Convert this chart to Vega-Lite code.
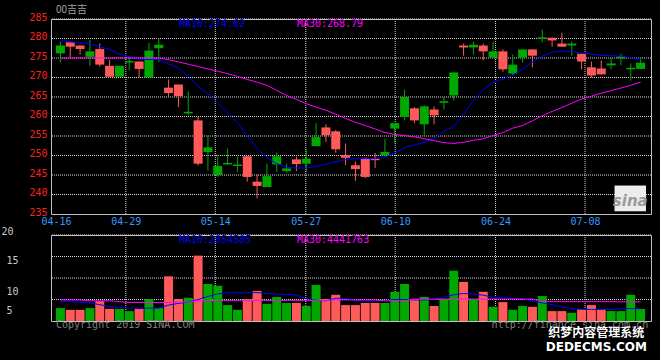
{
  "$schema": "https://vega.github.io/schema/vega-lite/v6.json",
  "background": "#000000",
  "padding": {"left": 0, "top": 4, "right": 10, "bottom": 8},
  "bounds": "flush",
  "spacing": 21,
  "config": {
    "view": {"stroke": "#c0c0c0", "strokeWidth": 1},
    "font": "DejaVu Sans Mono",
    "axis": {"labelFont": "DejaVu Sans Mono", "labelFontSize": 10, "ticks": false, "domain": false, "title": null, "grid": false, "labelFlush": false, "labelOverlap": false}
  },
  "datasets": {
    "gx": [{"g": 6.65}, {"g": 15.75}, {"g": 24.95}, {"g": 34.05}, {"g": 44.25}, {"g": 53.35}],
    "gy": [{"g": 240}, {"g": 245}, {"g": 250}, {"g": 255}, {"g": 260}, {"g": 265}, {"g": 270}, {"g": 275}, {"g": 280}, {"g": 285}],
    "gv": [{"g": 5}, {"g": 10}, {"g": 15}, {"g": 20}],
    "k": [
    {"i":0,"o":278.2,"c":276.2,"h":279.2,"l":273.9,"v":3.0,"m10":279.4,"m30":275.0,"vm10":4.6,"vm30":4.9},
    {"i":1,"o":277.9,"c":279.0,"h":279.0,"l":275.2,"v":2.6,"m10":279.2,"m30":275.0,"vm10":4.5,"vm30":4.9},
    {"i":2,"o":277.3,"c":278.2,"h":278.2,"l":275.9,"v":2.6,"m10":278.9,"m30":275.0,"vm10":4.3,"vm30":4.9},
    {"i":3,"o":276.7,"c":275.3,"h":279.6,"l":273.0,"v":3.0,"m10":278.6,"m30":275.0,"vm10":4.2,"vm30":4.7},
    {"i":4,"o":273.3,"c":277.3,"h":278.7,"l":272.8,"v":4.6,"m10":277.9,"m30":275.0,"vm10":3.8,"vm30":4.7},
    {"i":5,"o":270.2,"c":273.0,"h":274.5,"l":270.2,"v":2.8,"m10":277.2,"m30":275.0,"vm10":3.4,"vm30":4.7},
    {"i":6,"o":273.0,"c":270.2,"h":273.0,"l":270.2,"v":2.8,"m10":276.0,"m30":275.0,"vm10":3.1,"vm30":4.5},
    {"i":7,"o":274.25,"c":273.85,"h":275.0,"l":271.8,"v":2.3,"m10":275.3,"m30":275.0,"vm10":3.0,"vm30":4.3},
    {"i":8,"o":272.2,"c":274.1,"h":274.1,"l":270.0,"v":2.8,"m10":274.7,"m30":275.0,"vm10":3.0,"vm30":4.3},
    {"i":9,"o":276.9,"c":270.0,"h":278.9,"l":270.0,"v":5.1,"m10":274.6,"m30":275.0,"vm10":3.0,"vm30":4.3},
    {"i":10,"o":278.4,"c":277.5,"h":280.0,"l":273.9,"v":3.0,"m10":274.6,"m30":275.0,"vm10":3.0,"vm30":4.3},
    {"i":11,"o":266.0,"c":267.4,"h":269.5,"l":265.0,"v":10.4,"m10":273.5,"m30":274.6,"vm10":3.7,"vm30":4.3},
    {"i":12,"o":265.2,"c":268.2,"h":268.2,"l":262.4,"v":5.1,"m10":272.4,"m30":274.0,"vm10":4.1,"vm30":4.4},
    {"i":13,"o":261.2,"c":260.8,"h":266.4,"l":260.3,"v":5.4,"m10":270.3,"m30":273.4,"vm10":4.4,"vm30":4.4},
    {"i":14,"o":247.9,"c":259.0,"h":259.9,"l":247.4,"v":15.2,"m10":267.8,"m30":272.8,"vm10":5.0,"vm30":4.7},
    {"i":15,"o":252.1,"c":250.9,"h":255.2,"l":246.1,"v":8.6,"m10":265.8,"m30":272.2,"vm10":5.7,"vm30":4.7},
    {"i":16,"o":247.3,"c":245.0,"h":250.1,"l":244.5,"v":8.2,"m10":263.5,"m30":271.6,"vm10":6.3,"vm30":4.8},
    {"i":17,"o":248.1,"c":247.7,"h":251.8,"l":247.7,"v":3.7,"m10":260.9,"m30":271.0,"vm10":6.6,"vm30":4.8},
    {"i":18,"o":247.7,"c":247.3,"h":249.7,"l":245.8,"v":2.6,"m10":258.4,"m30":270.3,"vm10":6.6,"vm30":4.8},
    {"i":19,"o":244.5,"c":249.8,"h":249.8,"l":243.3,"v":5.1,"m10":255.0,"m30":269.5,"vm10":6.6,"vm30":4.8},
    {"i":20,"o":242.2,"c":243.3,"h":245.1,"l":239.0,"v":7.0,"m10":251.8,"m30":268.8,"vm10":6.6,"vm30":4.8},
    {"i":21,"o":244.7,"c":241.9,"h":247.9,"l":241.9,"v":4.0,"m10":249.5,"m30":268.0,"vm10":6.4,"vm30":4.8},
    {"i":22,"o":249.8,"c":247.7,"h":250.8,"l":245.8,"v":5.6,"m10":247.9,"m30":266.7,"vm10":6.2,"vm30":4.8},
    {"i":23,"o":246.7,"c":246.0,"h":247.9,"l":245.6,"v":4.2,"m10":247.0,"m30":265.4,"vm10":6.2,"vm30":4.8},
    {"i":24,"o":247.8,"c":249.0,"h":249.7,"l":246.0,"v":4.2,"m10":246.8,"m30":264.4,"vm10":6.0,"vm30":4.8},
    {"i":25,"o":249.2,"c":247.9,"h":251.8,"l":246.0,"v":3.5,"m10":246.8,"m30":263.3,"vm10":5.2,"vm30":4.8},
    {"i":26,"o":254.7,"c":252.4,"h":258.3,"l":252.4,"v":8.4,"m10":247.2,"m30":262.4,"vm10":4.8,"vm30":4.8},
    {"i":27,"o":255.2,"c":257.2,"h":258.0,"l":253.5,"v":5.1,"m10":247.8,"m30":261.6,"vm10":4.7,"vm30":4.8},
    {"i":28,"o":251.6,"c":256.2,"h":256.5,"l":250.7,"v":6.1,"m10":248.4,"m30":260.6,"vm10":5.3,"vm30":4.9},
    {"i":29,"o":249.4,"c":250.1,"h":253.1,"l":247.5,"v":3.7,"m10":249.0,"m30":259.5,"vm10":5.2,"vm30":4.9},
    {"i":30,"o":246.5,"c":247.5,"h":248.5,"l":243.5,"v":3.7,"m10":249.2,"m30":258.5,"vm10":4.8,"vm30":4.9},
    {"i":31,"o":244.5,"c":249.4,"h":249.4,"l":244.2,"v":4.2,"m10":249.2,"m30":257.7,"vm10":4.7,"vm30":4.9},
    {"i":32,"o":248.8,"c":249.2,"h":250.7,"l":246.8,"v":4.2,"m10":249.2,"m30":256.8,"vm10":4.7,"vm30":4.9},
    {"i":33,"o":250.9,"c":250.0,"h":254.2,"l":250.0,"v":4.2,"m10":249.6,"m30":255.9,"vm10":4.8,"vm30":4.7},
    {"i":34,"o":258.3,"c":256.9,"h":258.3,"l":253.2,"v":6.8,"m10":250.6,"m30":255.4,"vm10":5.0,"vm30":4.7},
    {"i":35,"o":265.0,"c":259.9,"h":266.9,"l":259.0,"v":8.6,"m10":252.0,"m30":255.1,"vm10":5.0,"vm30":4.7},
    {"i":36,"o":259.0,"c":262.1,"h":262.4,"l":258.3,"v":5.1,"m10":252.7,"m30":254.8,"vm10":4.9,"vm30":5.1},
    {"i":37,"o":262.6,"c":258.0,"h":262.9,"l":255.0,"v":5.6,"m10":253.3,"m30":254.3,"vm10":4.9,"vm30":5.1},
    {"i":38,"o":260.3,"c":261.8,"h":262.6,"l":258.0,"v":3.5,"m10":254.4,"m30":253.8,"vm10":5.0,"vm30":5.1},
    {"i":39,"o":263.9,"c":263.5,"h":265.0,"l":261.8,"v":5.1,"m10":256.2,"m30":253.3,"vm10":5.5,"vm30":5.1},
    {"i":40,"o":271.3,"c":265.4,"h":271.3,"l":264.1,"v":11.7,"m10":257.5,"m30":253.1,"vm10":6.1,"vm30":5.1},
    {"i":41,"o":277.7,"c":278.2,"h":278.7,"l":275.6,"v":9.1,"m10":260.6,"m30":253.4,"vm10":6.4,"vm30":5.1},
    {"i":42,"o":278.4,"c":277.7,"h":279.2,"l":275.9,"v":5.1,"m10":264.0,"m30":253.9,"vm10":6.3,"vm30":5.1},
    {"i":43,"o":276.7,"c":278.2,"h":278.7,"l":274.4,"v":6.8,"m10":266.8,"m30":254.3,"vm10":6.0,"vm30":5.1},
    {"i":44,"o":276.7,"c":275.1,"h":279.2,"l":275.1,"v":3.3,"m10":268.8,"m30":255.1,"vm10":5.5,"vm30":5.1},
    {"i":45,"o":272.1,"c":276.7,"h":277.2,"l":271.5,"v":4.4,"m10":269.6,"m30":255.9,"vm10":5.4,"vm30":5.1},
    {"i":46,"o":273.3,"c":271.0,"h":275.9,"l":270.5,"v":2.6,"m10":270.6,"m30":257.0,"vm10":5.3,"vm30":5.1},
    {"i":47,"o":277.2,"c":275.1,"h":277.2,"l":273.8,"v":3.5,"m10":272.1,"m30":257.7,"vm10":5.2,"vm30":5.1},
    {"i":48,"o":275.6,"c":277.2,"h":277.2,"l":272.6,"v":3.3,"m10":274.0,"m30":258.9,"vm10":4.7,"vm30":5.1},
    {"i":49,"o":280.3,"c":279.9,"h":282.3,"l":279.0,"v":5.8,"m10":275.5,"m30":260.2,"vm10":4.2,"vm30":4.6},
    {"i":50,"o":279.5,"c":280.2,"h":280.2,"l":277.9,"v":2.3,"m10":276.5,"m30":261.3,"vm10":3.8,"vm30":4.5},
    {"i":51,"o":277.9,"c":278.7,"h":281.5,"l":277.9,"v":2.3,"m10":276.7,"m30":262.3,"vm10":3.2,"vm30":4.5},
    {"i":52,"o":278.7,"c":278.2,"h":279.2,"l":275.6,"v":1.9,"m10":276.7,"m30":263.4,"vm10":2.9,"vm30":4.5},
    {"i":53,"o":274.1,"c":276.1,"h":276.1,"l":272.1,"v":2.8,"m10":276.2,"m30":264.5,"vm10":2.7,"vm30":4.5},
    {"i":54,"o":270.5,"c":272.6,"h":274.1,"l":270.0,"v":3.7,"m10":276.0,"m30":265.2,"vm10":2.7,"vm30":4.5},
    {"i":55,"o":270.8,"c":272.3,"h":274.4,"l":270.8,"v":2.8,"m10":275.7,"m30":266.0,"vm10":2.7,"vm30":4.5},
    {"i":56,"o":273.6,"c":273.1,"h":275.1,"l":272.1,"v":2.3,"m10":275.6,"m30":266.6,"vm10":2.7,"vm30":4.5},
    {"i":57,"o":275.4,"c":274.9,"h":276.1,"l":273.1,"v":2.3,"m10":275.5,"m30":267.3,"vm10":2.8,"vm30":4.45},
    {"i":58,"o":272.5,"c":272.1,"h":273.6,"l":269.2,"v":6.1,"m10":275.1,"m30":268.0,"vm10":2.9,"vm30":4.45},
    {"i":59,"o":273.8,"c":272.2,"h":275.1,"l":272.2,"v":2.8,"m10":274.6,"m30":268.8,"vm10":2.85,"vm30":4.44}
  ]},
  "vconcat": [
    {
      "width": 600,
      "height": 195,
      "layer": [
        {
          "data": {"name": "gy"},
          "mark": {"type": "rule", "strokeWidth": 1, "color": "#d8d8d8", "strokeDash": [1, 1]},
          "encoding": {"y": {"field": "g", "type": "quantitative", "scale": {"domain": [235, 285], "nice": false, "zero": false},
            "axis": {"values": [235, 240, 245, 250, 255, 260, 265, 270, 275, 280, 285], "tickCount": 11, "labelOverlap": false, "labelColor": "#ff2020", "labelPadding": 4, "labelOffset": -2, "minExtent": 50, "maxExtent": 50}}}
        },
        {
          "data": {"name": "gx"},
          "mark": {"type": "rule", "strokeWidth": 1, "color": "#d8d8d8", "strokeDash": [1, 1]},
          "encoding": {"x": {"field": "g", "type": "quantitative", "scale": {"domain": [-0.45, 59.55], "nice": false, "zero": false},
            "axis": {"values": [-0.45, 6.65, 15.75, 24.95, 34.05, 44.25, 53.35], "tickCount": 7, "labelExpr": "datum.value < 0 ? '04-16' : datum.value < 10 ? '04-29' : datum.value < 20 ? '05-14' : datum.value < 30 ? '05-27' : datum.value < 40 ? '06-10' : datum.value < 50 ? '06-24' : '07-08'", "labelOverlap": false, "labelColor": "#3399ff", "labelPadding": 2, "labelAlign": "center"}}}
        },
        {
          "data": {"name": "k"},
          "mark": {"type": "rule", "strokeWidth": 1},
          "encoding": {
            "x": {"field": "i", "type": "quantitative"},
            "y": {"field": "l", "type": "quantitative"},
            "y2": {"field": "h"},
            "color": {"condition": {"test": "datum.c >= datum.o", "value": "#ff5a5a"}, "value": "#00a800"}
          }
        },
        {
          "data": {"name": "k"},
          "mark": {"type": "bar", "size": 9},
          "encoding": {
            "x": {"field": "i", "type": "quantitative"},
            "y": {"field": "o", "type": "quantitative"},
            "y2": {"field": "c"},
            "color": {"condition": {"test": "datum.c >= datum.o", "value": "#ff5a5a"}, "value": "#00a800"}
          }
        },
        {
          "data": {"name": "k"},
          "mark": {"type": "line", "strokeWidth": 1, "color": "#0000ff"},
          "encoding": {"x": {"field": "i", "type": "quantitative"}, "y": {"field": "m10", "type": "quantitative"}}
        },
        {
          "data": {"name": "k"},
          "mark": {"type": "line", "strokeWidth": 1, "color": "#ff00ff"},
          "encoding": {"x": {"field": "i", "type": "quantitative"}, "y": {"field": "m30", "type": "quantitative"}}
        },
        {
          "data": {"values": [{}]},
          "mark": {"type": "text", "align": "left", "baseline": "middle", "fontSize": 10, "color": "#0000ff", "font": "DejaVu Sans Mono"},
          "encoding": {"x": {"datum": 12.05}, "y": {"datum": 283.6}, "text": {"value": "MA10:274.62"}}
        },
        {
          "data": {"values": [{}]},
          "mark": {"type": "text", "align": "left", "baseline": "middle", "fontSize": 10, "color": "#ff00ff", "font": "DejaVu Sans Mono"},
          "encoding": {"x": {"datum": 24.05}, "y": {"datum": 283.6}, "text": {"value": "MA30:268.79"}}
        },
        {
          "data": {"values": [{}]},
          "mark": {"type": "text", "align": "left", "baseline": "middle", "fontSize": 10, "color": "#a0a0a0", "font": "Noto Sans CJK SC"},
          "encoding": {"x": {"datum": -0.45}, "y": {"datum": 287.4}, "text": {"value": "00吉吉"}}
        },
        {
          "data": {"values": [{}]},
          "mark": {"type": "rect", "color": "#ececec"},
          "encoding": {"x": {"datum": 56.35}, "x2": {"datum": 59.55}, "y": {"datum": 242.3}, "y2": {"datum": 235.7}}
        },
        {
          "data": {"values": [{}]},
          "mark": {"type": "text", "align": "center", "baseline": "middle", "fontSize": 15, "fontStyle": "italic", "fontWeight": "bold", "color": "#9a9a9a", "font": "DejaVu Sans"},
          "encoding": {"x": {"datum": 57.95}, "y": {"datum": 238.3}, "text": {"value": "sina"}}
        }
      ]
    },
    {
      "width": 600,
      "height": 86,
      "layer": [
        {
          "data": {"name": "gv"},
          "mark": {"type": "rule", "strokeWidth": 1, "color": "#d8d8d8", "strokeDash": [1, 1]},
          "encoding": {"y": {"field": "g", "type": "quantitative", "scale": {"domain": [0, 20], "nice": false},
            "axis": {"values": [5, 10, 15, 20], "tickCount": 4, "labelOverlap": false, "labelColor": "#c8c8c8", "labelAlign": "left",
              "labelPadding": {"condition": {"test": "datum.value == 20", "value": 50}, "value": 45},
              "labelOffset": {"condition": [{"test": "datum.value == 20", "value": -4}, {"test": "datum.value == 15", "value": 4}, {"test": "datum.value == 10", "value": 13}], "value": 11},
              "minExtent": 50, "maxExtent": 50}}}
        },
        {
          "data": {"name": "gx"},
          "mark": {"type": "rule", "strokeWidth": 1, "color": "#d8d8d8", "strokeDash": [1, 1]},
          "encoding": {"x": {"field": "g", "type": "quantitative", "scale": {"domain": [-0.45, 59.55], "nice": false, "zero": false}, "axis": {"labels": false}}}
        },
        {
          "data": {"name": "k"},
          "mark": {"type": "bar", "size": 9},
          "encoding": {
            "x": {"field": "i", "type": "quantitative"},
            "y": {"field": "v", "type": "quantitative"},
            "color": {"condition": {"test": "datum.c >= datum.o", "value": "#ff5a5a"}, "value": "#00a800"}
          }
        },
        {
          "data": {"name": "k"},
          "mark": {"type": "line", "strokeWidth": 1, "color": "#0000ff"},
          "encoding": {"x": {"field": "i", "type": "quantitative"}, "y": {"field": "vm10", "type": "quantitative"}}
        },
        {
          "data": {"name": "k"},
          "mark": {"type": "line", "strokeWidth": 1, "color": "#ff00ff"},
          "encoding": {"x": {"field": "i", "type": "quantitative"}, "y": {"field": "vm30", "type": "quantitative"}}
        },
        {
          "data": {"values": [{}]},
          "mark": {"type": "text", "align": "left", "baseline": "middle", "fontSize": 10, "color": "#0000ff", "font": "DejaVu Sans Mono"},
          "encoding": {"x": {"datum": 12.05}, "y": {"datum": 18.95}, "text": {"value": "MA10:2854585"}}
        },
        {
          "data": {"values": [{}]},
          "mark": {"type": "text", "align": "left", "baseline": "middle", "fontSize": 10, "color": "#ff00ff", "font": "DejaVu Sans Mono"},
          "encoding": {"x": {"datum": 24.05}, "y": {"datum": 18.95}, "text": {"value": "MA30:4441763"}}
        },
        {
          "data": {"values": [{}]},
          "mark": {"type": "text", "align": "left", "baseline": "middle", "fontSize": 10, "color": "#808080", "font": "DejaVu Sans Mono"},
          "encoding": {"x": {"datum": -0.45}, "y": {"datum": -0.95}, "text": {"value": "Copyright 2019 SINA.COM"}}
        },
        {
          "data": {"values": [{}]},
          "mark": {"type": "text", "align": "left", "baseline": "middle", "fontSize": 10, "color": "#808080", "font": "DejaVu Sans Mono"},
          "encoding": {"x": {"datum": 43.85}, "y": {"datum": -0.95}, "text": {"value": "http://finance.sina.com.cn"}}
        },
        {
          "data": {"values": [{}]},
          "mark": {"type": "text", "align": "center", "baseline": "middle", "fontSize": 12, "fontWeight": "bold", "color": "#ffffff", "font": "Noto Sans CJK SC"},
          "encoding": {"x": {"datum": 54.5}, "y": {"datum": -2.9}, "text": {"value": "织梦内容管理系统"}}
        },
        {
          "data": {"values": [{}]},
          "mark": {"type": "text", "align": "center", "baseline": "middle", "fontSize": 12, "fontWeight": "bold", "color": "#ffffff", "font": "DejaVu Sans"},
          "encoding": {"x": {"datum": 54.5}, "y": {"datum": -6.05}, "text": {"value": "DEDECMS.COM"}}
        }
      ]
    }
  ]
}
